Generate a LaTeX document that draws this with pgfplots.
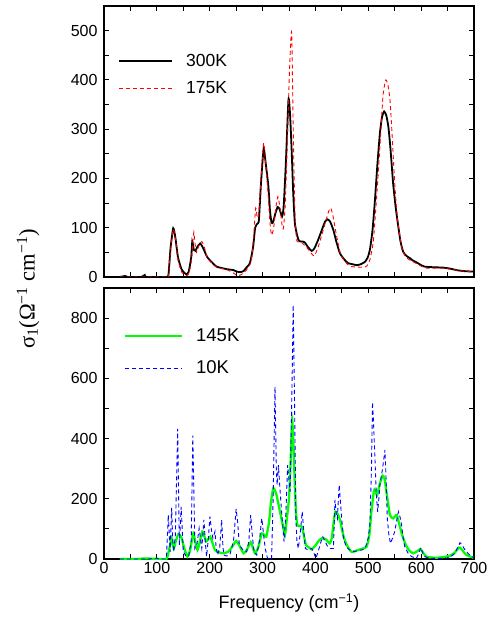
\documentclass[border=0pt]{standalone}
\usepackage{fontspec}
\setmainfont{Liberation Sans}
\newfontfamily\seriffont{Liberation Serif}
\usepackage{pgfplots}
\pgfplotsset{compat=1.18}
\definecolor{mygreen}{RGB}{0,255,0}
\pgfplotsset{
  myaxis/.style={
    scale only axis, width=370pt, height=271pt,
    xmin=0, xmax=700,
    xtick={0,100,...,700}, minor x tick num=1,
    tick align=inside, xtick pos=both, ytick pos=both,
    major tick length=5pt, minor tick length=5pt,
    every tick/.style={black, line width=0.9pt},
    axis line style={line width=1.2pt},
    /pgf/number format/assume math mode=true,
    /pgf/number format/1000 sep={},
    yticklabel={\fontsize{16}{16}\selectfont\pgfmathprintnumber{\tick}},
    yticklabel style={xshift=-3pt},
    legend cell align=left,
    legend style={draw=none, fill=none, anchor=north west,
      font=\fontsize{17.5}{17.5}\selectfont},
  },
}
\begin{document}
\begin{tikzpicture}
\path[use as bounding box] (0,0) rectangle (491pt,619pt);
% ---------- top panel ----------
\begin{axis}[myaxis, at={(104pt,342pt)}, anchor=south west,
  ymin=0, ymax=550, ytick={0,100,...,500}, minor y tick num=1,
  xticklabels={},
  legend style={at={(0.03,0.838)}, row sep=10pt},
  legend image code/.code={\draw[#1] (0pt,0pt) -- (53pt,0pt); \path (64pt,0pt);}]
\addplot[black, line width=1.8pt, smooth, tension=0.35] coordinates {
(30,0) (40,2) (45,0) (70,0) (77,4) (80,0) (118,0) (122,5) (126,60) (131,99) (135,80) (140,40) (147,15) (155,6) (160,10) (165,40) (167,72) (170,55) (173,53) (177,62) (182,68) (187,60) (195,41) (204,30) (213,21) (232,16) (245,14) (251,11) (258,10) (264,12) (270,20) (276,28) (282,60) (286,100) (290,108) (293,115) (297,190) (302,260) (306,230) (311,184) (314,135) (317,110) (320,112) (324,128) (328.5,142) (332,138) (337,123) (340,145) (344,230) (349,360) (352,330) (355,258) (358,170) (361,110) (364.5,89) (368,75) (371,72) (376,72) (380,70) (385,62) (393,53) (398,58) (405,75) (412,95) (418,112) (423,117) (428,112) (434,95) (440,70) (446.5,48) (455,35) (462,28) (470,26) (478,24) (486,26) (494,31) (499,40) (503,55) (508,95) (512.6,156) (517,225) (522,292) (526,325) (530,336) (534,328) (538,305) (542,260) (547,190) (552,140) (556.8,102) (561,72) (566,51) (572,43) (579,38) (585,33) (591,30) (600,24) (607,21) (620,20) (642,19) (655,17) (667,14) (680,12) (699,11)
};
\addlegendentry{300K}
\addplot[red, line width=0.9pt, dash pattern=on 4pt off 3pt, smooth, tension=0.35] coordinates {
(30,0) (118,0) (122,3) (126,55) (131,97) (135,78) (140,35) (147,10) (155,3) (160,6) (165,30) (168,70) (170,91) (172,70) (175,50) (180,65) (185,72) (190,60) (195,40) (204,28) (213,20) (232,15) (245,8) (252,3) (258,4) (264,8) (270,15) (276,25) (279,35) (283,80) (287,140) (290,120) (293,130) (297,200) (302,272) (306,230) (311,160) (314,110) (317,85) (321,100) (325,140) (329,163) (333,140) (337,105) (339.5,99) (343,150) (347,280) (351,420) (355,497) (358,300) (361,140) (364.5,75) (370,72) (376,68) (385,58) (393,47) (398,43) (405,60) (412,85) (420,115) (425,133) (429,140) (433,125) (438,95) (447,48) (455,33) (465,22) (480,20) (490,20) (497,22) (503,35) (509.5,72) (515,150) (520,230) (524,300) (528,370) (533,400) (537,390) (541,360) (545,290) (550,190) (555,120) (563,62) (570,42) (579,34) (590,28) (600,22) (610,18) (625,18) (642,18) (660,15) (680,12) (699,10)
};
\addlegendentry{175K}
\end{axis}
% ---------- bottom panel ----------
\begin{axis}[myaxis, at={(104pt,60pt)}, anchor=south west,
  ymin=0, ymax=900, ytick={0,200,...,800}, minor y tick num=1,
  xticklabel={\fontsize{16}{16}\selectfont\pgfmathprintnumber{\tick}},
  xlabel={Frequency (cm\textsuperscript{−1})},
  xlabel style={font=\fontsize{18}{18}\selectfont,
    at={(axis description cs:0.5,0)}, anchor=center, yshift=-44pt},
  legend style={at={(0.045,0.865)}, row sep=14pt, font=\fontsize{18.5}{18.5}\selectfont},
  legend image code/.code={\draw[#1] (0pt,0pt) -- (57pt,0pt); \path (68pt,0pt);}]
\addplot[mygreen, line width=2.3pt, smooth, tension=0.35] coordinates {
(30,0) (60,0) (80,2) (100,0) (118,0) (123,30) (128,69) (132,35) (136,60) (140.6,82) (144,78) (147,69) (152,35) (158,8) (163,30) (169,85) (173,55) (177,30) (181,55) (186,91) (190,75) (193,58) (197,65) (201,74) (205,55) (210,30) (218,22) (226,19) (235,24) (243,42) (250,60) (256,45) (264,19) (270,30) (277.5,56) (282,35) (286,19) (292,40) (298.5,85) (303,80) (307,74) (312,120) (316,190) (320.4,235) (326,215) (333,157) (338,115) (342.4,80) (345,120) (350,202) (353,320) (356,462) (359,350) (361,245) (363,160) (365.7,113) (370,110) (374,108) (378,80) (382,47) (388,38) (393,32) (400,45) (407,62) (413,69) (420,65) (427,52) (431,70) (435,130) (438,157) (442,150) (446.5,130) (450,100) (454,70) (458,52) (463,35) (468.5,24) (475,26) (481,30) (490,35) (497,41) (502,80) (506,160) (511,229) (514,222) (517,213) (521,245) (527,277) (531,265) (535,215) (541,146) (547,135) (553.6,146) (558,120) (563,86) (568,60) (572.6,41) (578,27) (585,19) (592,25) (599,33) (604,20) (610,8) (620,5) (629,4) (640,6) (654.5,11) (663,20) (671.6,38) (676,34) (681,22) (686,13) (693,8) (699,4)
};
\addlegendentry{145K}
\addplot[blue, line width=0.9pt, dash pattern=on 4pt off 3pt] coordinates {
(30,0) (60,0) (85,0) (100,3) (105,0) (118,0) (121.7,146) (125,24) (128,170) (130,60) (132,24) (135,80) (139.4,432) (142.5,46) (146,173) (150,24) (155,10) (160,8) (165,60) (168,410) (172,35) (176,50) (180,102) (183,60) (185,35) (189,130) (192,50) (194,8) (197,60) (200.5,141) (203,100) (206,69) (210,91) (212,40) (215,13) (219,40) (222.6,130) (225,40) (227,13) (232,10) (238,13) (245,60) (250,166) (253,120) (256,46) (263,30) (270,24) (274,60) (277.5,146) (281,70) (284,24) (289,13) (294,60) (298.5,135) (302,80) (305,35) (309,5) (311,0) (317,0) (320,200) (323.5,572) (326,300) (327.5,246) (330,312) (333,230) (336,157) (340.6,58) (344,150) (347.5,312) (350,260) (352,224) (355,500) (358,844) (361,450) (363,135) (365,60) (367.6,35) (371,80) (375,157) (378,90) (381,35) (386,30) (393,35) (397,20) (401,2) (406,30) (411,60) (414,74) (418,60) (422,45) (427,35) (434,35) (437,196) (439.5,150) (441.5,135) (445,246) (449.6,135) (453,70) (458,41) (465,30) (472,24) (480,28) (488,30) (494,35) (500,70) (503,113) (506,300) (508,521) (510,450) (512.6,334) (515,220) (517.7,157) (520,200) (522,246) (527,300) (531.6,362) (534,250) (536,135) (539,80) (542,52) (546,70) (550,91) (554,130) (557,157) (560,140) (563,113) (566,70) (569,41) (575,20) (582,8) (591,2) (596,20) (599,38) (603,20) (607,8) (615,3) (623,2) (640,2) (654.5,4) (664,20) (673.5,54) (678,45) (683,30) (692,13) (700,4)
};
\addlegendentry{10K}
\end{axis}
% ---------- shared y label ----------
\node[rotate=90, font=\seriffont\fontsize{22.5}{22.5}\selectfont] at (28pt,330pt)
  {σ\textsubscript{1}(Ω\textsuperscript{−1} cm\textsuperscript{−1})};
\end{tikzpicture}
\end{document}
